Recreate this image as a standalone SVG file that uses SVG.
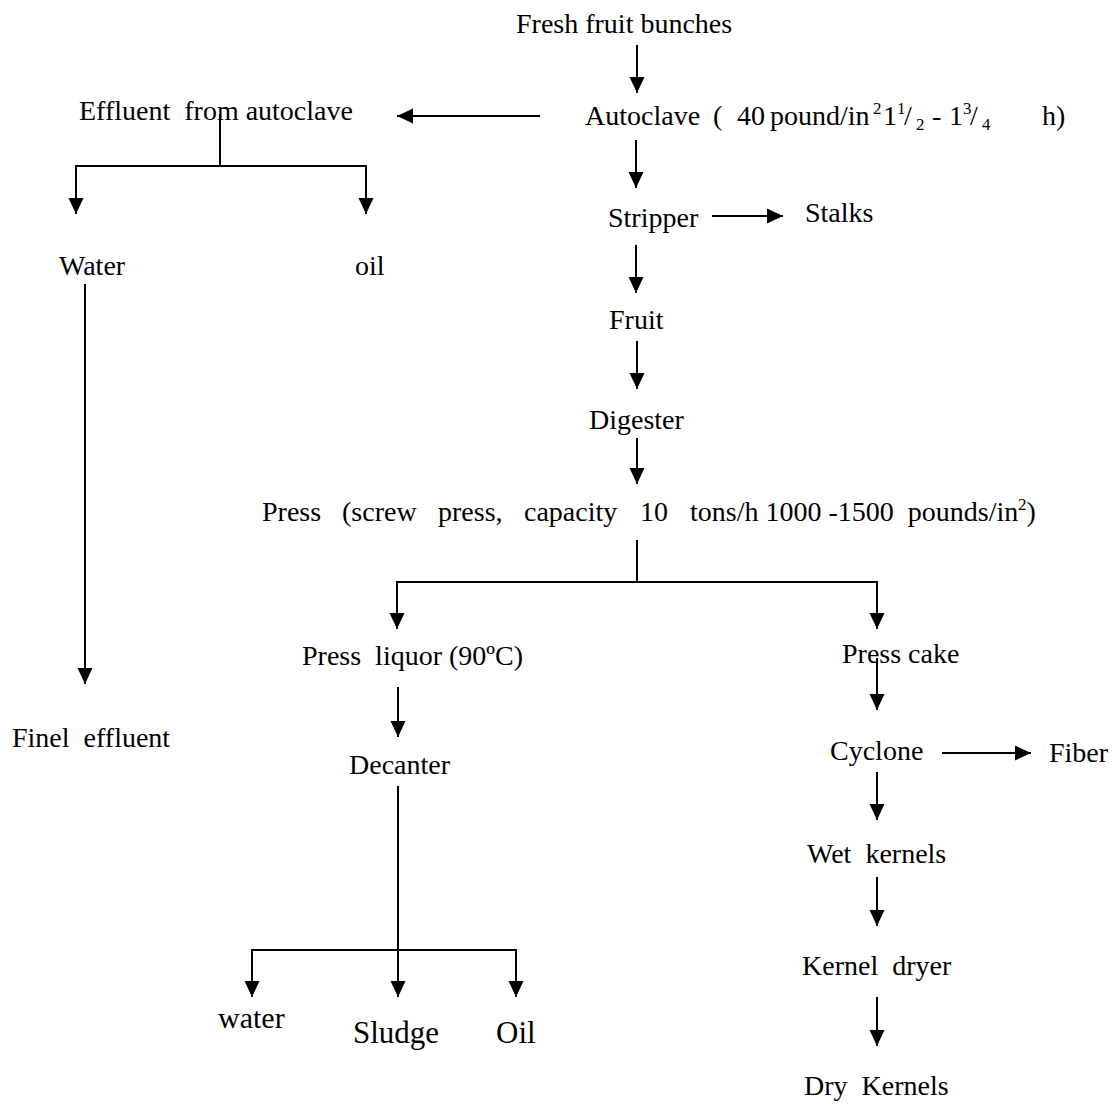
<svg xmlns="http://www.w3.org/2000/svg" width="1112" height="1104" viewBox="0 0 1112 1104">
<style>
.t{font-family:"Liberation Serif","Times New Roman",serif;font-size:28px;fill:#000}
.sup{font-size:17px}
.big{font-size:31px}
.c line,.c polyline{stroke:#000;stroke-width:2;fill:none}
.a{marker-end:url(#ah)}
</style>
<defs>
<marker id="ah" markerUnits="userSpaceOnUse" markerWidth="16" markerHeight="16" viewBox="0 0 16 16" refX="16" refY="8" orient="auto">
<path d="M0,0.5 L16,8 L0,15.5 Z" fill="#000"/>
</marker>
</defs>
<rect width="1112" height="1104" fill="#fff"/>
<g class="c" id="connectors">
<line class="a" x1="637" y1="45" x2="637" y2="93"/>
<line class="a" x1="540" y1="116" x2="397" y2="116"/>
<polyline points="220,114 220,166"/>
<polyline points="76,166 366,166"/>
<line class="a" x1="76" y1="165" x2="76" y2="214"/>
<line class="a" x1="366" y1="165" x2="366" y2="214"/>
<line class="a" x1="85" y1="284" x2="85" y2="684"/>
<line class="a" x1="636" y1="140" x2="636" y2="188"/>
<line class="a" x1="712" y1="216" x2="783" y2="216"/>
<line class="a" x1="636" y1="245" x2="636" y2="293"/>
<line class="a" x1="637" y1="341" x2="637" y2="389"/>
<line class="a" x1="637" y1="438" x2="637" y2="484"/>
<polyline points="637,540 637,582"/>
<polyline points="397,582 877,582"/>
<line class="a" x1="397" y1="581" x2="397" y2="629"/>
<line class="a" x1="877" y1="581" x2="877" y2="629"/>
<line class="a" x1="398" y1="687" x2="398" y2="737"/>
<line class="a" x1="398" y1="786" x2="398" y2="997"/>
<polyline points="252,950 516,950"/>
<line class="a" x1="252" y1="949" x2="252" y2="997"/>
<line class="a" x1="516" y1="949" x2="516" y2="997"/>
<line class="a" x1="877" y1="658" x2="877" y2="710"/>
<line class="a" x1="942" y1="753" x2="1031" y2="753"/>
<line class="a" x1="877" y1="772" x2="877" y2="820"/>
<line class="a" x1="877" y1="877" x2="877" y2="926"/>
<line class="a" x1="877" y1="997" x2="877" y2="1046"/>
</g>
<g id="fresh-fruit-bunches"><text class="t" x="516" y="33">Fresh fruit bunches</text></g>
<g id="autoclave"><text class="t" y="125"><tspan x="585">Autoclave</tspan><tspan x="713">(</tspan><tspan x="737">40</tspan><tspan x="770">pound/in</tspan><tspan x="873" dy="-11" class="sup">2</tspan><tspan x="883" dy="11">1</tspan><tspan x="897" dy="-11" class="sup">1</tspan><tspan x="904" dy="11">/</tspan><tspan x="916" dy="5" class="sup">2</tspan><tspan x="932" dy="-5">-</tspan><tspan x="949">1</tspan><tspan x="963" dy="-11" class="sup">3</tspan><tspan x="970" dy="11">/</tspan><tspan x="982" dy="5" class="sup">4</tspan><tspan x="1042" dy="-5">h)</tspan></text></g>
<g id="effluent"><text class="t" x="79" y="120" xml:space="preserve">Effluent  from autoclave</text></g>
<g id="water"><text class="t" x="59" y="275">Water</text></g>
<g id="oil-1"><text class="t" x="355" y="275">oil</text></g>
<g id="final-effluent"><text class="t" x="12" y="747" xml:space="preserve">Finel  effluent</text></g>
<g id="stripper"><text class="t" x="608" y="227">Stripper</text></g>
<g id="stalks"><text class="t" x="805" y="222">Stalks</text></g>
<g id="fruit"><text class="t" x="609" y="329">Fruit</text></g>
<g id="digester"><text class="t" x="589" y="429">Digester</text></g>
<g id="press"><text class="t" y="521"><tspan x="262">Press</tspan><tspan x="342">(screw</tspan><tspan x="438">press,</tspan><tspan x="524">capacity</tspan><tspan x="640">10</tspan><tspan x="690" xml:space="preserve">tons/h 1000 -1500  pounds/in</tspan><tspan x="1018" dy="-11" class="sup">2</tspan><tspan dy="11">)</tspan></text></g>
<g id="press-liquor"><text class="t" x="302" y="665" xml:space="preserve">Press  liquor (90ºC)</text></g>
<g id="decanter"><text class="t" x="349" y="774">Decanter</text></g>
<g id="water-2"><text class="t" x="218" y="1028" style="font-size:30px">water</text></g>
<g id="sludge"><text class="t big" x="353" y="1043">Sludge</text></g>
<g id="oil-2"><text class="t big" x="496" y="1043">Oil</text></g>
<g id="press-cake"><text class="t" x="842" y="663">Press cake</text></g>
<g id="cyclone"><text class="t" x="830" y="760">Cyclone</text></g>
<g id="fiber"><text class="t" x="1049" y="762">Fiber</text></g>
<g id="wet-kernels"><text class="t" x="807" y="863" xml:space="preserve">Wet  kernels</text></g>
<g id="kernel-dryer"><text class="t" x="802" y="975" xml:space="preserve">Kernel  dryer</text></g>
<g id="dry-kernels"><text class="t" x="804" y="1095" xml:space="preserve">Dry  Kernels</text></g>
</svg>
